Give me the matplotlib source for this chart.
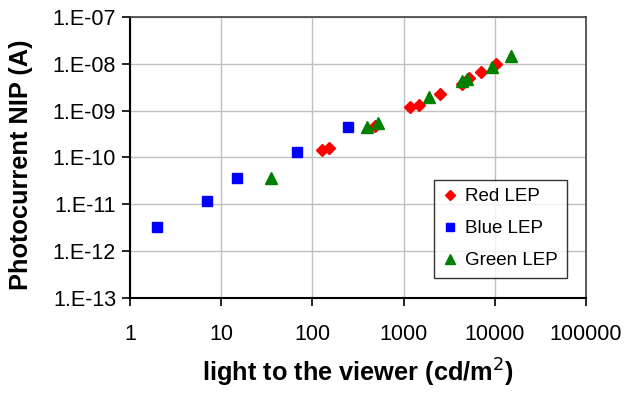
import numpy as np
import matplotlib.pyplot as plt
from matplotlib.ticker import FixedLocator, FixedFormatter, NullLocator

plt.rcParams['font.family'] = ['Liberation Sans', 'DejaVu Sans']

#data
red_x = [128, 153, 486, 1175, 1486, 2506, 4400, 5255, 7060, 10200]
red_y = [1.44e-10, 1.59e-10, 4.7e-10, 1.21e-9, 1.32e-9, 2.23e-9, 3.7e-9, 4.9e-9, 6.6e-9, 9.9e-9]

blue_x = [2.0, 7.0, 15, 68, 248]
blue_y = [3.2e-12, 1.15e-11, 3.57e-11, 1.30e-10, 4.4e-10]

green_x = [35, 400, 528, 1900, 4340, 4920, 9400, 15060]
green_y = [3.7e-11, 4.4e-10, 5.5e-10, 1.98e-9, 4.4e-9, 4.7e-9, 8.7e-9, 1.49e-8]

x_ticks = [1, 10, 100, 1000, 10000, 100000]
x_labels = ['1', '10', '100', '1000', '10000', '100000']
y_ticks = [1e-13, 1e-12, 1e-11, 1e-10, 1e-9, 1e-8, 1e-7]
y_labels = ['1.E-13', '1.E-12', '1.E-11', '1.E-10', '1.E-09', '1.E-08', '1.E-07']

fig = plt.figure(figsize=(6.24, 3.94), dpi=100)
ax = fig.add_axes([0.2083, 0.2437, 0.7307, 0.7132])

ax.plot(red_x, red_y, 'D', color='#ff0000', markersize=6.5, label='Red LEP', zorder=3)
ax.plot(blue_x, blue_y, 's', color='#0000ff', markersize=6.5, label='Blue LEP', zorder=3)
ax.plot(green_x, green_y, '^', color='#008000', markersize=8.5, label='Green LEP', zorder=4)

ax.set_xscale('log')
ax.set_yscale('log')
ax.set_xlim(1, 100000)
ax.set_ylim(1e-13, 1e-7)

ax.xaxis.set_major_locator(FixedLocator(x_ticks))
ax.xaxis.set_major_formatter(FixedFormatter(x_labels))
ax.xaxis.set_minor_locator(NullLocator())
ax.yaxis.set_major_locator(FixedLocator(y_ticks))
ax.yaxis.set_major_formatter(FixedFormatter(y_labels))
ax.yaxis.set_minor_locator(NullLocator())

ax.tick_params(axis='both', direction='out', length=6, width=1.2, labelsize=15.5, colors='black')
ax.tick_params(axis='x', pad=13)
ax.tick_params(axis='y', pad=4)
ax.grid(True, color='#c0c0c0', linewidth=1)
ax.set_axisbelow(True)

for side in ['left', 'bottom']:
    ax.spines[side].set_linewidth(1.5)
    ax.spines[side].set_color('black')
for side in ['top', 'right']:
    ax.spines[side].set_linewidth(1.2)
    ax.spines[side].set_color('#404040')

ax.set_xlabel('light to the viewer (cd/m$^2$)', fontsize=18.3, fontweight='bold')
ax.set_ylabel('Photocurrent NIP (A)', fontsize=18.3, fontweight='bold', va='center')
ax.xaxis.set_label_coords(0.5, -0.21)
ax.yaxis.set_label_coords(-0.24, 0.473)

leg = ax.legend(loc='lower right', bbox_to_anchor=(0.978, 0.038), fontsize=13.5, frameon=True,
                fancybox=False, edgecolor='black', handlelength=0.8, handletextpad=0.4,
                borderpad=0.45, labelspacing=0.8, markerscale=0.8)
leg.get_frame().set_linewidth(1)

fig.savefig('out.png', dpi=100)
